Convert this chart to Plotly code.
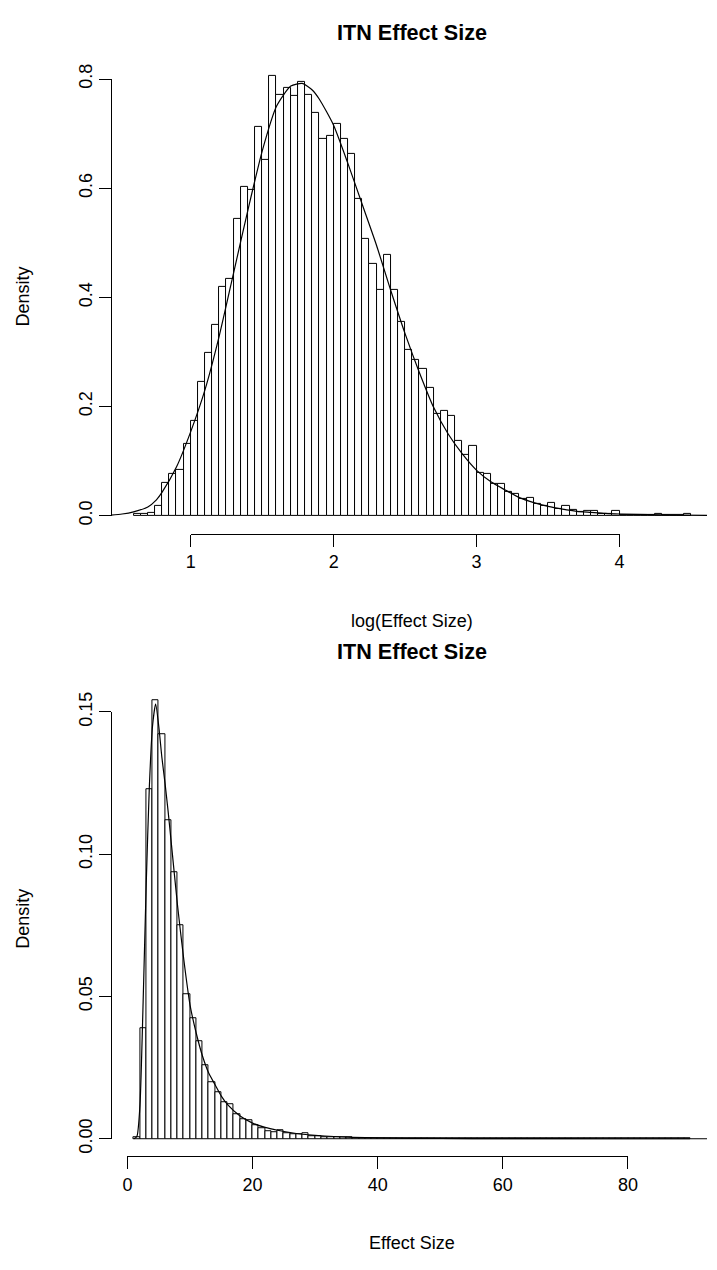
import plotly.graph_objects as go

W, H = 717, 1270
FONT = "Liberation Sans, Arial, Helvetica, sans-serif"

# ---------------- data: top panel (log effect size) ----------------
top_bin_start = 0.60
top_bin_width = 0.05
top_density = [
    0.003, 0.003, 0.005, 0.017, 0.060, 0.076, 0.083, 0.131, 0.173, 0.245,
    0.299, 0.349, 0.420, 0.433, 0.544, 0.602, 0.596, 0.712, 0.652, 0.805,
    0.771, 0.784, 0.769, 0.795, 0.771, 0.738, 0.690, 0.696, 0.718, 0.690,
    0.663, 0.580, 0.508, 0.461, 0.414, 0.477, 0.414, 0.355, 0.304, 0.286,
    0.268, 0.235, 0.186, 0.192, 0.183, 0.137, 0.111, 0.128, 0.079, 0.077,
    0.059, 0.059, 0.043, 0.040, 0.031, 0.033, 0.021, 0.017, 0.024, 0.013,
    0.017, 0.010, 0.007, 0.008, 0.008, 0.004, 0.004, 0.009, 0.002, 0.002,
    0.001, 0.001, 0.001, 0.004, 0.001, 0.0005, 0.0005, 0.003,
]
top_curve_x = [0.40, 0.52, 0.60, 0.70, 0.76, 0.80, 0.90, 1.00, 1.10, 1.20,
               1.30, 1.40, 1.50, 1.60, 1.70, 1.78, 1.85, 1.90, 2.00, 2.10,
               2.20, 2.30, 2.40, 2.50, 2.60, 2.70, 2.80, 2.90, 3.00, 3.10,
               3.20, 3.30, 3.40, 3.50, 3.60, 3.70, 3.80, 3.90, 4.00, 4.20,
               4.40, 4.70]
top_curve_y = [0.000, 0.003, 0.007, 0.016, 0.029, 0.043, 0.089, 0.154, 0.231, 0.330,
               0.445, 0.560, 0.668, 0.750, 0.787, 0.792, 0.780, 0.763, 0.715, 0.645,
               0.570, 0.495, 0.412, 0.333, 0.262, 0.198, 0.150, 0.113, 0.083, 0.062,
               0.047, 0.033, 0.024, 0.017, 0.012, 0.008, 0.006, 0.004, 0.003, 0.002,
               0.001, 0.0005]
top_xticks = [1, 2, 3, 4]
top_xtick_labels = ["1", "2", "3", "4"]
top_yticks = [0.0, 0.2, 0.4, 0.6, 0.8]
top_ytick_labels = ["0.0", "0.2", "0.4", "0.6", "0.8"]
top_title = "ITN Effect Size"
top_xlabel = "log(Effect Size)"

# ---------------- data: bottom panel (effect size) ----------------
bot_bin_start = 1
bot_bin_width = 1
bot_density = [
    0.0004, 0.0387, 0.1229, 0.1542, 0.1422, 0.1119, 0.0936, 0.0750, 0.0509, 0.0423,
    0.0343, 0.0258, 0.0198, 0.0163, 0.0127, 0.0121, 0.0087, 0.0070, 0.0064, 0.0047,
    0.0036, 0.0028, 0.0024, 0.0030, 0.0018, 0.0016, 0.0015, 0.0018, 0.0009, 0.0009,
    0.0007, 0.0006, 0.0005, 0.0005, 0.0004, 0.0003, 0.0003, 0.0002, 0.0002, 0.0002,
    0.0001, 0.0002, 0.0001, 0.0001, 0.0001, 0.0001, 0.00005, 0.00005, 0.00005, 0.00005,
    0.00003, 0.00003, 0.00003, 0.00003, 0.00003, 0.00003, 0.00003, 0.00003, 0.00003, 0.00003,
    0.00003, 0.00003, 0.00003, 0.00003, 0.00003, 0.00003, 0.00003, 0.00003, 0.00003, 0.00003,
    0.00003, 0.00003, 0.00003, 0.00003, 0.00003, 0.00003, 0.00003, 0.00003, 0.00003, 0.00003,
    0.00003, 0.00003, 0.00003, 0.00003, 0.00003, 0.00003, 0.00003, 0.00003, 0.00003,
]
bot_curve_x = [1.0, 1.5, 2.0, 2.5, 3.0, 3.5, 4.0, 4.5, 5.0, 5.5,
               6.0, 6.5, 7.0, 8.0, 9.0, 10.0, 11.0, 12.0, 13.0, 14.0,
               15.0, 16.0, 18.0, 20.0, 22.0, 24.0, 26.0, 28.0, 30.0, 33.0,
               36.0, 40.0, 45.0, 50.0, 60.0, 70.0, 80.0, 95.0]
bot_curve_y = [0.0, 0.0008, 0.012, 0.048, 0.090, 0.124, 0.145, 0.1528, 0.145, 0.134,
               0.125, 0.115, 0.104, 0.082, 0.063, 0.047, 0.037, 0.029, 0.023, 0.019,
               0.015, 0.012, 0.008, 0.0055, 0.0040, 0.0030, 0.0022, 0.0016, 0.0012, 0.0008,
               0.0005, 0.0003, 0.00018, 0.0001, 0.00005, 0.00003, 0.00002, 0.00001]
bot_xticks = [0, 20, 40, 60, 80]
bot_xtick_labels = ["0", "20", "40", "60", "80"]
bot_yticks = [0.00, 0.05, 0.10, 0.15]
bot_ytick_labels = ["0.00", "0.05", "0.10", "0.15"]
bot_title = "ITN Effect Size"
bot_xlabel = "Effect Size"
ylabel = "Density"

# ---------------- layout geometry (pixels) ----------------
def fx(px):
    return px / W


def fy(py):
    return 1 - py / H


# panel scale: px = X0 + (v - XV0) * KX ; py = Y0 - d * KY
T = dict(X0=189.7, XV0=1.0, KX=146.0, Y0=509.7, KY=561.25,
         left=108.3, right=W, top=40.0, bottom=528.3, title_py=13)
B = dict(X0=125.1, XV0=0.0, KX=6.39, Y0=1150.5, KY=2926.0,
         left=108.7, right=W, top=681.0, bottom=1168.3, title_py=649)


def v_of(P, px):
    return P["XV0"] + (px - P["X0"]) / P["KX"]


def d_of(P, py):
    return (P["Y0"] - py) / P["KY"]


def px_of(P, v):
    return P["X0"] + (v - P["XV0"]) * P["KX"]


def py_of(P, d):
    return P["Y0"] - d * P["KY"]


fig = go.Figure()

bar_style = dict(color="white", line=dict(color="black", width=1))

top_centers = [top_bin_start + (i + 0.5) * top_bin_width for i in range(len(top_density))]
bot_centers = [bot_bin_start + (i + 0.5) * bot_bin_width for i in range(len(bot_density))]

fig.add_trace(go.Bar(x=top_centers, y=top_density, width=top_bin_width,
                     marker=bar_style, xaxis="x", yaxis="y", showlegend=False,
                     hoverinfo="skip"))
fig.add_trace(go.Scatter(x=top_curve_x, y=top_curve_y, mode="lines",
                         line=dict(color="black", width=1.2, shape="spline", smoothing=0.6),
                         xaxis="x", yaxis="y", showlegend=False, hoverinfo="skip"))
fig.add_trace(go.Scatter(x=[top_xticks[0]], y=[top_yticks[0]], mode="markers",
                         marker=dict(opacity=0), xaxis="x2", yaxis="y2",
                         showlegend=False, hoverinfo="skip"))

fig.add_trace(go.Bar(x=bot_centers, y=bot_density, width=bot_bin_width,
                     marker=bar_style, xaxis="x3", yaxis="y3", showlegend=False,
                     hoverinfo="skip"))
fig.add_trace(go.Scatter(x=bot_curve_x, y=bot_curve_y, mode="lines",
                         line=dict(color="black", width=1.2, shape="spline", smoothing=0.6),
                         xaxis="x3", yaxis="y3", showlegend=False, hoverinfo="skip"))
fig.add_trace(go.Scatter(x=[bot_xticks[0]], y=[bot_yticks[0]], mode="markers",
                         marker=dict(opacity=0), xaxis="x4", yaxis="y4",
                         showlegend=False, hoverinfo="skip"))

tickfont = dict(family=FONT, size=18, color="black")
disp = dict(showgrid=False, zeroline=False, showline=True, linecolor="black",
            linewidth=1, ticks="outside", ticklen=12, tickwidth=1,
            tickcolor="black", tickfont=tickfont, tickmode="array",
            fixedrange=True)


def main_axes(P):
    xa = dict(visible=False, domain=[fx(P["left"]), fx(P["right"])],
              range=[v_of(P, P["left"]), v_of(P, P["right"])], fixedrange=True)
    ya = dict(visible=False, domain=[fy(P["bottom"]), fy(P["top"])],
              range=[d_of(P, P["bottom"]), d_of(P, P["top"])], fixedrange=True)
    return xa, ya


def disp_axes(P, xt, xtl, yt, ytl):
    xa = dict(disp, domain=[fx(px_of(P, xt[0])), fx(px_of(P, xt[-1]))],
              range=[xt[0], xt[-1]], tickvals=xt, ticktext=xtl,
              anchor="free", position=fy(P["bottom"]))
    ya = dict(disp, domain=[fy(py_of(P, yt[0])), fy(py_of(P, yt[-1]))],
              range=[yt[0], yt[-1]], tickvals=yt, ticktext=ytl,
              anchor="free", position=fx(P["left"]), tickangle=-90)
    return xa, ya


x1, y1 = main_axes(T)
x2, y2 = disp_axes(T, top_xticks, top_xtick_labels, top_yticks, top_ytick_labels)
x3, y3 = main_axes(B)
x4, y4 = disp_axes(B, bot_xticks, bot_xtick_labels, bot_yticks, bot_ytick_labels)
x1["anchor"] = "y"
y1["anchor"] = "x"
x3["anchor"] = "y3"
y3["anchor"] = "x3"

annotations = []
CENTER_PX = 416  # R centres titles over the plot region (which runs past the image edge)


def add_labels(P, title, xlabel):
    annotations.append(dict(text="<b>%s</b>" % title, x=fx(CENTER_PX), y=fy(P["title_py"]),
                            xref="paper", yref="paper", showarrow=False,
                            font=dict(family=FONT, size=21.6, color="black"),
                            xanchor="center", yanchor="middle"))
    annotations.append(dict(text=xlabel, x=fx(CENTER_PX), y=fy(P["bottom"] + 89.7),
                            xref="paper", yref="paper", showarrow=False,
                            font=dict(family=FONT, size=18, color="black"),
                            xanchor="center", yanchor="middle"))
    annotations.append(dict(text=ylabel, x=fx(P["left"] - 89.7),
                            y=fy((P["top"] + P["bottom"]) / 2),
                            xref="paper", yref="paper", showarrow=False, textangle=-90,
                            font=dict(family=FONT, size=18, color="black"),
                            xanchor="center", yanchor="middle"))


add_labels(T, top_title, top_xlabel)
add_labels(B, bot_title, bot_xlabel)

fig.update_layout(
    width=W, height=H,
    margin=dict(l=0, r=0, t=0, b=0),
    paper_bgcolor="white", plot_bgcolor="rgba(0,0,0,0)",
    xaxis=x1, yaxis=y1, xaxis2=x2, yaxis2=y2,
    xaxis3=x3, yaxis3=y3, xaxis4=x4, yaxis4=y4,
    annotations=annotations, showlegend=False,
    bargap=0, hovermode=False,
)

fig.write_html("out.html", config={"displayModeBar": False},
               post_script="document.body.style.margin='0';document.body.style.overflow='hidden';")
